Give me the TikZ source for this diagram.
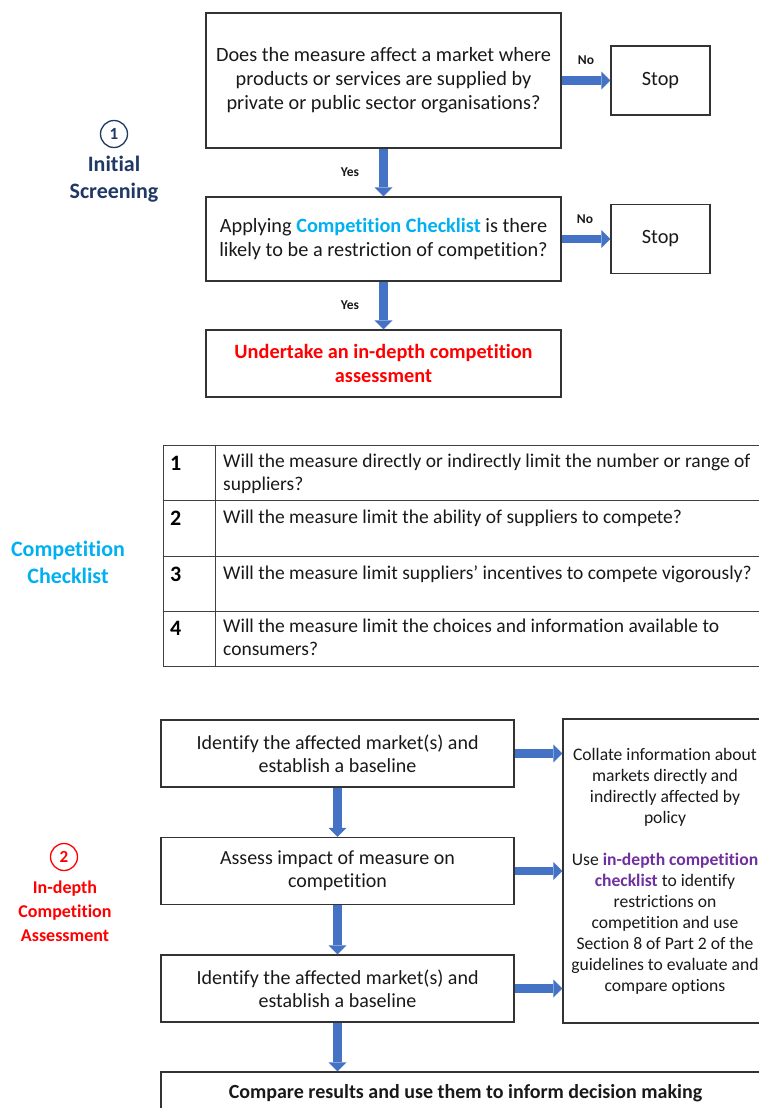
\documentclass[tikz,border=0pt]{standalone}
\usepackage{fontspec}
\setmainfont{Carlito}[Ligatures=NoCommon]
\usetikzlibrary{arrows.meta, positioning}

\definecolor{arrowblue}{HTML}{4472C4}
\definecolor{screennavy}{HTML}{1F3864}
\definecolor{checkblue}{HTML}{00B0F0}
\definecolor{alertred}{HTML}{FF0000}
\definecolor{listpurple}{HTML}{7030A0}

\newcommand{\bigtext}{\fontsize{20.3}{24}\selectfont}
\newcommand{\midtext}{\fontsize{20}{23}\selectfont}
\newcommand{\rowtext}{\fontsize{19.5}{23}\selectfont}
\newcommand{\smalltext}{\fontsize{17.6}{21}\selectfont}

\begin{document}
\begin{tikzpicture}[
    x=1pt, y=-1pt,
    box/.style={draw=black!80, line width=1.1pt, align=center, inner sep=0pt, text=black!90},
    stopbox/.style={box, font=\bigtext, minimum width=99pt, minimum height=69pt},
    flow/.style={draw=arrowblue, line width=8.5pt, -{Triangle[width=18pt, length=9pt, line width=0pt]}},
    tag/.style={font=\bfseries\fontsize{13.5}{15}\selectfont, text=black!90},
    stagenum/.style={circle, draw, line width=1.3pt, minimum size=27pt, inner sep=0pt, font=\bfseries\fontsize{17}{17}\selectfont},
    stagelabel/.style={align=center, font=\bfseries\fontsize{22}{27}\selectfont},
    gridline/.style={draw=black!75, line width=1pt},
    cell/.style={anchor=north west, align=left, inner sep=0pt, font=\rowtext, text=black!90},
    cellnum/.style={anchor=north west, inner sep=0pt, font=\bfseries\fontsize{22}{22}\selectfont}
]
   \useasboundingbox (0,0) rectangle (759,1108);
   \clip (0,0) rectangle (759,1108);

   % Initial screening
   \node[box, font=\bigtext, minimum width=355pt, minimum height=135pt] (q1) at (383.5,80.5)
      {Does the measure affect a market where\\products or services are supplied by\\private or public sector organisations?};
   \node[stopbox] (s1) at (660.5,80.5) {Stop};
   \node[box, font=\bigtext, minimum width=355pt, minimum height=84pt] (q2) at (383.5,239)
      {Applying \textcolor{checkblue}{\bfseries Competition Checklist} is there\\likely to be a restriction of competition?};
   \node[stopbox] (s2) at (660.5,239) {Stop};
   \node[box, font=\bigtext\bfseries, text=alertred, minimum width=355pt, minimum height=67pt] (q3) at (383.5,363.5)
      {Undertake an in-depth competition\\assessment};

   \node[tag] (yes1) at (350,172) {Yes};
   \node[tag] (yes2) at (350,305) {Yes};
   \node[tag] (no1) at (586,60) {No};
   \node[tag] (no2) at (585,219) {No};

   \draw[flow] (q1.south) -- (q2.north);
   \draw[flow] (q2.south) -- (q3.north);
   \draw[flow] (q1.east) -- (s1.west);
   \draw[flow] (q2.east) -- (s2.west);

   \node[stagenum, draw=screennavy, text=screennavy] (n1) at (114,134) {1};
   \node[stagelabel, text=screennavy] (l1) at (114,179.5) {Initial\\Screening};

   % Competition checklist
   \node[stagelabel, text=checkblue] (l2) at (68,562.5) {Competition\\Checklist};

   \draw[gridline] (163,445) rectangle (775,666);
   \draw[gridline] (215,445) -- (215,666);
   \foreach \y in {500,556,611}
      \draw[gridline] (163,\y) -- (775,\y);

   \node[cellnum] (c1) at (170,456) {1};
   \node[cellnum] (c2) at (170,511) {2};
   \node[cellnum] (c3) at (170,567) {3};
   \node[cellnum] (c4) at (170,621) {4};
   \node[cell] (t1) at (223,454) {Will the measure directly or indirectly limit the number or range of\\suppliers?};
   \node[cell] (t2) at (223,510) {Will the measure limit the ability of suppliers to compete?};
   \node[cell] (t3) at (223,566) {Will the measure limit suppliers’ incentives to compete vigorously?};
   \node[cell] (t4) at (223,619) {Will the measure limit the choices and information available to\\consumers?};

   % In-depth assessment
   \node[box, font=\midtext, minimum width=353pt, minimum height=67pt] (a1) at (337.5,753.5)
      {Identify the affected market(s) and\\establish a baseline};
   \node[box, font=\midtext, minimum width=353pt, minimum height=67pt] (a2) at (337.5,871)
      {Assess impact of measure on\\competition};
   \node[box, font=\midtext, minimum width=353pt, minimum height=67pt] (a3) at (337.5,988.5)
      {Identify the affected market(s) and\\establish a baseline};
   \node[box, font=\smalltext, minimum width=204pt, minimum height=304pt] (info) at (665,871)
      {Collate information about\\markets directly and\\indirectly affected by\\policy\\[21pt]
       Use \textcolor{listpurple}{\bfseries in-depth competition}\\\textcolor{listpurple}{\bfseries checklist} to identify\\restrictions on\\competition and use\\Section 8 of Part 2 of the\\guidelines to evaluate and\\compare options};
   \node[box, font=\midtext\bfseries, minimum width=609pt, minimum height=43pt] (final) at (465.5,1093.5)
      {Compare results and use them to inform decision making};

   \draw[flow] (a1.south) -- (a2.north);
   \draw[flow] (a2.south) -- (a3.north);
   \draw[flow] (a3.south) -- (a3.south |- final.north);
   \draw[flow] (a1.east) -- (a1.east -| info.west);
   \draw[flow] (a2.east) -- (a2.east -| info.west);
   \draw[flow] (a3.east) -- (a3.east -| info.west);

   \node[stagenum, draw=alertred, text=alertred] (n2) at (64,857) {2};
   \node[stagelabel, text=alertred, font=\bfseries\fontsize{18}{24}\selectfont] (l3) at (65,911) {In-depth\\Competition\\Assessment};
\end{tikzpicture}
\end{document}
